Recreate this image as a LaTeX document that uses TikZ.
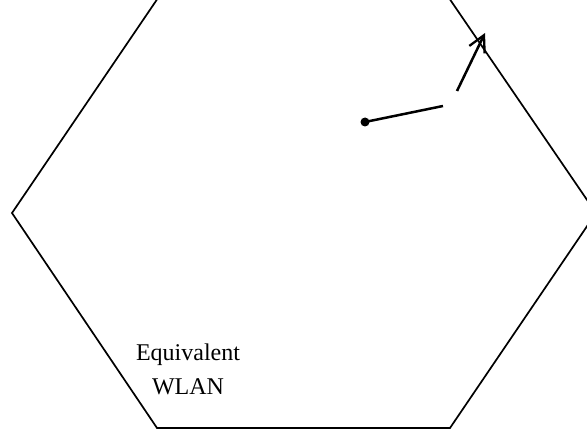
\documentclass[tikz,border=0pt]{standalone}
\usepackage{fontspec}
\setmainfont{Liberation Serif}
\usetikzlibrary{arrows.meta}
\begin{document}
\begin{tikzpicture}[x=1pt,y=-1pt,
  cell/.style={line width=1.7pt, line join=miter},
  vec/.style={line width=2.5pt},
  lbl/.style={align=center, inner sep=0pt, font=\fontsize{24}{34}\selectfont}]
\useasboundingbox (0,0) rectangle (587,433);
\clip (0,0) rectangle (587,433);
\fill[white] (0,0) rectangle (587,433);
\coordinate (h1) at (12,213);
\coordinate (h2) at (158,-2);
\coordinate (h3) at (449,-2);
\coordinate (h4) at (596,213);
\coordinate (h5) at (450,428);
\coordinate (h6) at (157,428);
\draw[cell] (h1) -- (h2) -- (h3) -- (h4) -- (h5) -- (h6) -- cycle;
\coordinate (p) at (365,122);
\coordinate (q) at (443,106);
\fill (p) circle (4.5);
\draw[vec] (p) -- (q);
\coordinate (s) at (457,91);
\coordinate (t) at (485,33);
\draw[vec, -{Straight Barb[length=16pt,width=17pt,line width=2.3pt]}] (s) -- (t);
\node[lbl, anchor=base] (w) at (188,394) {Equivalent\\WLAN};
\end{tikzpicture}
\end{document}
